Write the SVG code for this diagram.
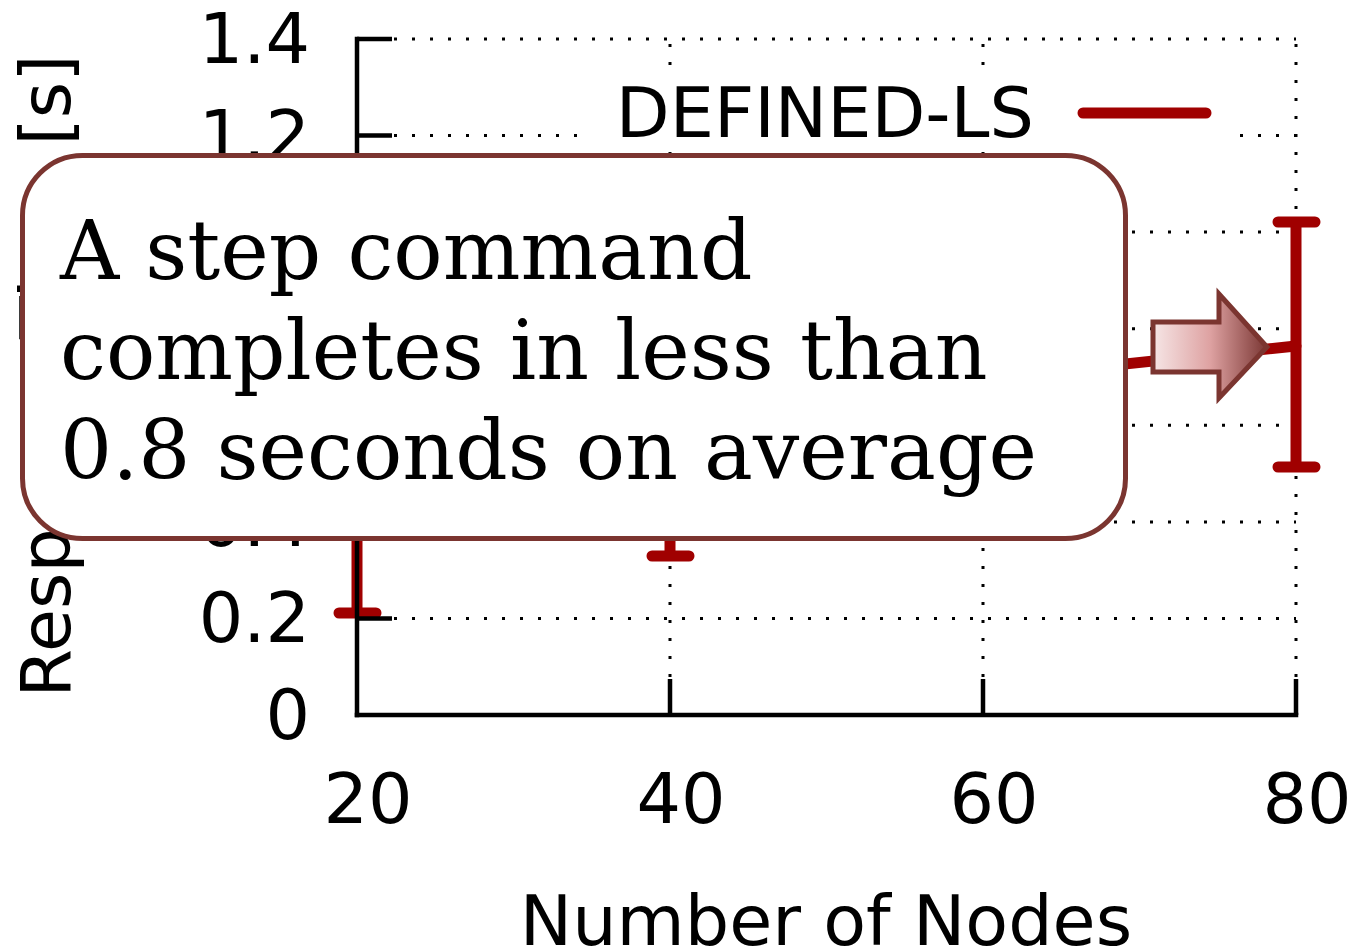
<svg xmlns="http://www.w3.org/2000/svg" width="1352" height="950" viewBox="0 0 1352 950">
<style>
.grid{stroke:#000;stroke-width:3;stroke-dasharray:3 15;fill:none}
.axis{stroke:#000;stroke-width:4.5;fill:none;stroke-linecap:square}
.tick{stroke:#000;stroke-width:4.5;fill:none}
.lbl{font-family:"DejaVu Sans",sans-serif;font-size:70px;fill:#000}
.data{stroke:#a00000;stroke-width:11;fill:none;stroke-linecap:round;stroke-linejoin:round}
.bar{stroke:#a00000;stroke-width:11;fill:none}
.note{font-family:"DejaVu Serif",serif;font-size:82px;fill:#000}
</style>
<defs>
<linearGradient id="arrowGrad" x1="0" y1="0" x2="1" y2="0">
<stop offset="0" stop-color="#f6e6e6"/>
<stop offset="0.5" stop-color="#dea2a2"/>
<stop offset="1" stop-color="#7a3633"/>
</linearGradient>
</defs>
<rect width="1352" height="950" fill="#fff"/>
<g id="grid">
<line class="grid" x1="394" y1="39" x2="1296" y2="39"/>
<line class="grid" x1="394" y1="135.6" x2="1296" y2="135.6"/>
<line class="grid" x1="394" y1="232.1" x2="1296" y2="232.1"/>
<line class="grid" x1="394" y1="328.7" x2="1296" y2="328.7"/>
<line class="grid" x1="394" y1="425.3" x2="1296" y2="425.3"/>
<line class="grid" x1="394" y1="521.9" x2="1296" y2="521.9"/>
<line class="grid" x1="394" y1="618.4" x2="1296" y2="618.4"/>
<line class="grid" x1="670" y1="677" x2="670" y2="39"/>
<line class="grid" x1="983" y1="677" x2="983" y2="39"/>
<line class="grid" x1="1296" y1="677" x2="1296" y2="39"/>
</g>
<g id="legend">
<rect x="580" y="80" width="652" height="70" fill="#fff"/>
<text class="lbl" x="1034" y="137" text-anchor="end">DEFINED-LS</text>
<line class="data" x1="1083" y1="113" x2="1206" y2="113"/>
</g>
<g id="series">
<polyline class="data" points="357,440 670,420 983,379 1296,346"/>
<path class="bar" d="M357,270 V613 M670,290 V556 M983,250 V500 M1296,222 V467"/>
<path class="data" d="M339,613 H376 M339,270 H376 M652,556 H689 M652,290 H689 M965,500 H1002 M965,250 H1002 M1278,222 H1315 M1278,467 H1315"/>
</g>
<g id="axes">
<line class="axis" x1="357" y1="39" x2="357" y2="715"/>
<line class="axis" x1="357" y1="715" x2="1296" y2="715"/>
<path class="tick" d="M357,39 H392 M357,135.6 H392 M357,232.1 H392 M357,328.7 H392 M357,425.3 H392 M357,521.9 H392 M357,618.4 H392 M670,715 V679 M983,715 V679 M1296,715 V679"/>
</g>
<g id="ytick-labels">
<text class="lbl" x="310" y="63" text-anchor="end">1.4</text>
<text class="lbl" x="310" y="160" text-anchor="end">1.2</text>
<text class="lbl" x="310" y="256" text-anchor="end">1</text>
<text class="lbl" x="310" y="353" text-anchor="end">0.8</text>
<text class="lbl" x="310" y="449" text-anchor="end">0.6</text>
<text class="lbl" x="310" y="546" text-anchor="end">0.4</text>
<text class="lbl" x="310" y="642" text-anchor="end">0.2</text>
<text class="lbl" x="310" y="739" text-anchor="end">0</text>
</g>
<g id="xtick-labels">
<text class="lbl" x="368" y="823" text-anchor="middle">20</text>
<text class="lbl" x="681" y="823" text-anchor="middle">40</text>
<text class="lbl" x="994" y="823" text-anchor="middle">60</text>
<text class="lbl" x="1307" y="823" text-anchor="middle">80</text>
</g>
<g id="axis-titles">
<text class="lbl" x="826" y="945" text-anchor="middle">Number of Nodes</text>
<text class="lbl" transform="translate(70,376) rotate(-90)" text-anchor="middle">Response Time [s]</text>
</g>
<g id="callout">
<rect x="22.5" y="155.5" width="1103" height="383" rx="60" ry="60" fill="#fff" stroke="#7b3530" stroke-width="5"/>
<text class="note" x="60" y="279">A step command</text>
<text class="note" x="60" y="379">completes in less than</text>
<text class="note" x="60" y="479">0.8 seconds on average</text>
</g>
<g id="arrow">
<path d="M1153,322 H1219 V294 L1267,347 L1219,398 V372 H1153 Z" fill="url(#arrowGrad)" stroke="#7b3530" stroke-width="5" stroke-linejoin="miter"/>
</g>
</svg>
